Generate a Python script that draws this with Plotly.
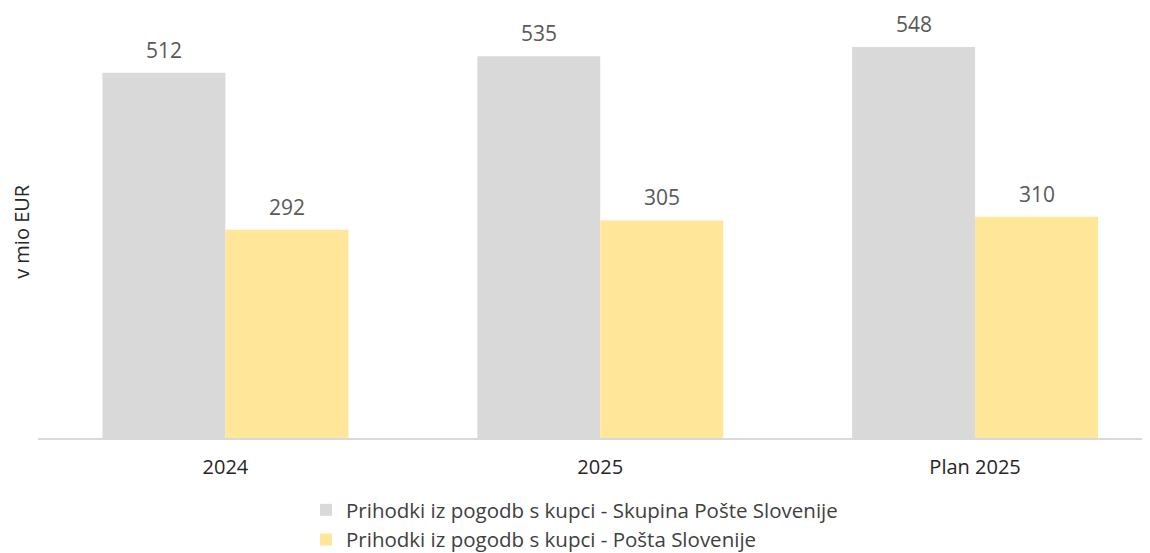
import plotly.graph_objects as go

categories = ["2024", "2025", "Plan 2025"]
skupina = [512, 535, 548]
posta = [292, 305, 310]
series_names = ["Prihodki iz pogodb s kupci - Skupina Pošte Slovenije",
                "Prihodki iz pogodb s kupci - Pošta Slovenije"]

FONT = "Open Sans"
BAR_PX = 61.5  # half group offset in pixels for labels

fig = go.Figure()
fig.add_trace(go.Bar(x=categories, y=skupina, name=series_names[0],
                     marker=dict(color="#D9D9D9", line=dict(width=0))))
fig.add_trace(go.Bar(x=categories, y=posta, name=series_names[1],
                     marker=dict(color="#FFE699", line=dict(width=0))))

for vals, shift in ((skupina, -BAR_PX), (posta, BAR_PX)):
    for i, v in enumerate(vals):
        fig.add_annotation(x=i, y=v, text=str(v), showarrow=False,
                           xanchor="center", yanchor="bottom", xshift=shift, yshift=7,
                           font=dict(size=21, color="#595959", family=FONT))

fig.update_layout(
    width=1150, height=553,
    margin=dict(l=30, r=8, t=2, b=123, autoexpand=False),
    paper_bgcolor="white", plot_bgcolor="white",
    barmode="group", bargap=0.344, bargroupgap=0,
    font=dict(family=FONT, color="#404040"),
    showlegend=True,
    legend=dict(orientation="v", x=0.241, xanchor="left", y=-0.1215, yanchor="top",
                font=dict(size=20.5, color="#404040", family=FONT),
                tracegroupgap=0, itemwidth=30, bgcolor="rgba(0,0,0,0)"),
    xaxis=dict(type="category", range=[-0.5, 2.4667], showline=True,
               linecolor="#D9D9D9", linewidth=1.5, showgrid=False, ticks="",
               ticklabelstandoff=10,
               tickfont=dict(size=20, color="#262626", family=FONT)),
    yaxis=dict(range=[0, 600], visible=False, showgrid=False, zeroline=False),
)
fig.add_annotation(text="v mio EUR", xref="paper", yref="paper",
                   x=-0.0144, y=0.484, xanchor="center", yanchor="middle",
                   showarrow=False, textangle=-90,
                   font=dict(size=20, color="#262626", family=FONT))

fig.write_html("out.html")
